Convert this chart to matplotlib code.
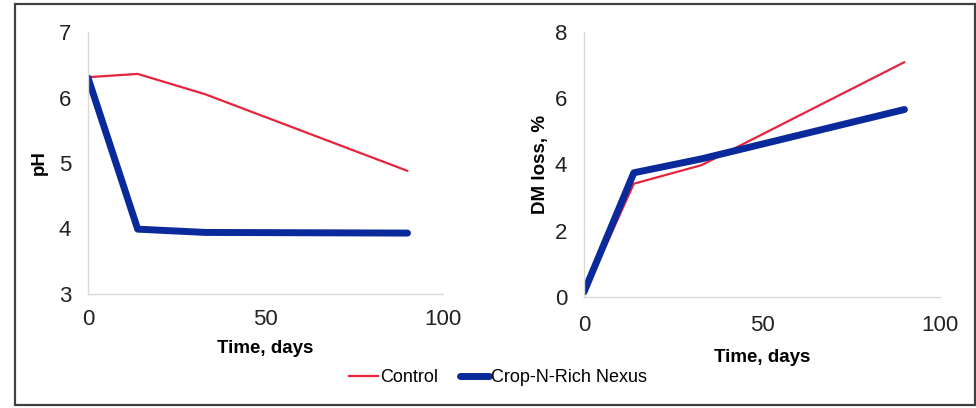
import matplotlib.pyplot as plt
from matplotlib.lines import Line2D
from matplotlib.patches import Rectangle

# sampling days and readings
days = [0, 14, 33, 90]
ph_control = [6.31, 6.36, 6.05, 4.88]
ph_nexus = [6.30, 3.99, 3.94, 3.93]
dm_control = [0.10, 3.42, 3.98, 7.09]
dm_nexus = [0.15, 3.75, 4.17, 5.66]

series_names = ["Control", "Crop-N-Rich Nexus"]
red = "#e8243c"
blue = "#0a2a9c"

plt.rcParams['font.family'] = ['Liberation Sans', 'DejaVu Sans']

fig = plt.figure(figsize=(9.76, 4.08), dpi=100)
fig.patches.append(Rectangle((15 / 976, 3 / 408), 960 / 976, 401 / 408,
                             transform=fig.transFigure, fill=False,
                             edgecolor="#404040", linewidth=1.6))

ax1 = fig.add_axes([88 / 976, 1 - 294 / 408, 355 / 976, 262 / 408])
ax2 = fig.add_axes([584 / 976, 1 - 297 / 408, 356 / 976, 265 / 408])


def style(ax, ylim, yticks, ylabel, ypad, xpad, xlpad):
    ax.set_xlim(0, 100)
    ax.set_ylim(*ylim)
    ax.set_xticks([0, 50, 100])
    ax.set_yticks(yticks)
    for s in ["top", "right"]:
        ax.spines[s].set_visible(False)
    for s in ["left", "bottom"]:
        ax.spines[s].set_color("#d9d9d9")
        ax.spines[s].set_linewidth(1.0)
    ax.tick_params(length=0, labelsize=16, colors="#222222")
    ax.tick_params(axis="x", pad=xpad)
    ax.tick_params(axis="y", pad=12)
    ax.set_xlabel("Time, days", fontsize=13.5, fontweight="bold", labelpad=xlpad)
    ax.set_ylabel(ylabel, fontsize=13.5, fontweight="bold", labelpad=ypad)


ax1.plot(days, ph_control, color=red, linewidth=1.6, solid_capstyle="round")
ax1.plot(days, ph_nexus, color=blue, linewidth=5, solid_capstyle="round")
style(ax1, (3, 7), [3, 4, 5, 6, 7], "pH", 8, 11, 7)

ax2.plot(days, dm_control, color=red, linewidth=1.6, solid_capstyle="round")
ax2.plot(days, dm_nexus, color=blue, linewidth=5, solid_capstyle="round")
style(ax2, (0, 8), [0, 2, 4, 6, 8], "DM loss, %", 4, 13, 9)

handles = [Line2D([], [], color=red, linewidth=1.6),
           Line2D([], [], color=blue, linewidth=5, solid_capstyle="round")]
fig.legend(handles, series_names, loc="center", bbox_to_anchor=(498 / 976, 1 - 378 / 408),
           ncol=2, frameon=False, fontsize=13, handlelength=1.6, handletextpad=0.1,
           columnspacing=1.2)

fig.savefig("out.png", dpi=100)
